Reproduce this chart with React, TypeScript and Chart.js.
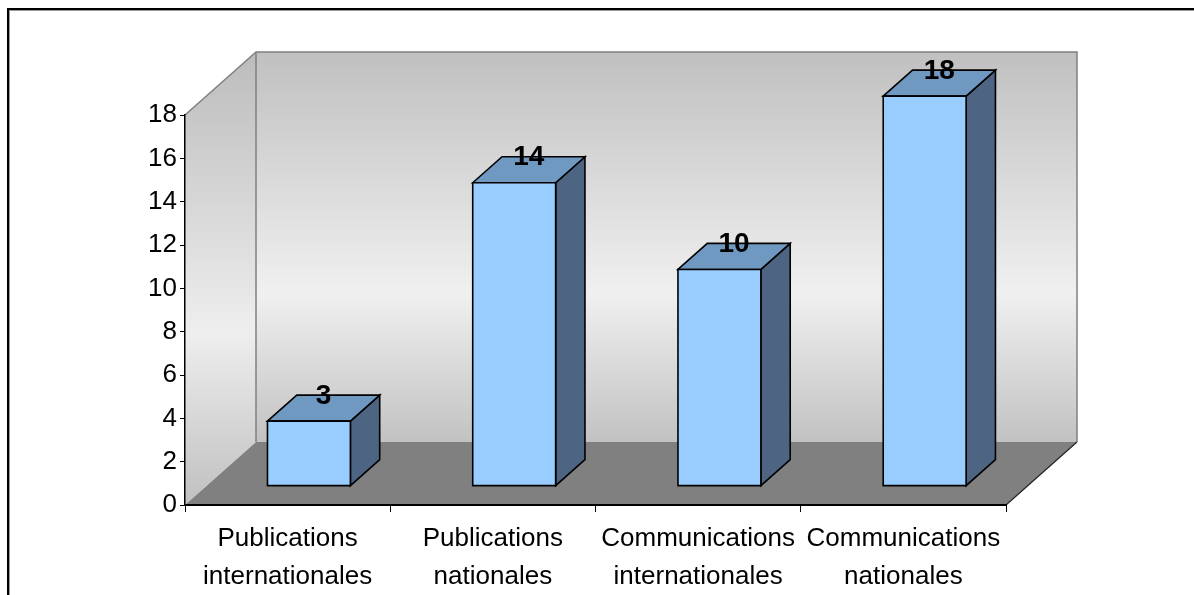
import React, { useEffect, useRef } from "react";
import { Chart, registerables } from "chart.js";

Chart.register(...registerables);

const categories: string[][] = [
  ["Publications", "internationales"],
  ["Publications", "nationales"],
  ["Communications", "internationales"],
  ["Communications", "nationales"],
];
const values: number[] = [3, 14, 10, 18];
const yMin = 0;
const yMax = 18;
const yStep = 2;

const FONT = "'Liberation Sans', Arial, sans-serif";
const DX = 71; // wall depth offset x
const DY = 63; // wall depth offset y
const BAR_FRONT = 0.3; // fraction of depth where bar front face sits
const BAR_DEPTH = 0.413; // fraction of depth occupied by bar

const threeD = {
  id: "threeD",
  beforeDraw(chart: any) {
    const { ctx, chartArea } = chart;
    const { left, right, top, bottom } = chartArea;
    ctx.save();
    // outer frame
    ctx.fillStyle = "#000";
    ctx.fillRect(7, 8, 2, 600);
    ctx.fillRect(7, 8, 1200, 2);
    ctx.fillStyle = "#9a9a9a";
    ctx.fillRect(9, 10, 1, 600);
    ctx.fillRect(9, 10, 1200, 1);

    const bx0 = left + DX, bx1 = right + DX, by0 = top - DY, by1 = bottom - DY;
    const g = ctx.createLinearGradient(0, by0, 0, by1);
    g.addColorStop(0, "#c0c0c0");
    g.addColorStop(0.62, "#f0f0f0");
    g.addColorStop(1, "#c2c2c2");
    ctx.fillStyle = g;
    ctx.fillRect(bx0, by0, bx1 - bx0, by1 - by0);

    // side wall
    const g2 = ctx.createLinearGradient(0, by0, 0, bottom);
    g2.addColorStop(0, "#bcbcbc");
    g2.addColorStop(0.62, "#eeeeee");
    g2.addColorStop(1, "#c0c0c0");
    ctx.fillStyle = g2;
    ctx.beginPath();
    ctx.moveTo(left, top);
    ctx.lineTo(bx0, by0);
    ctx.lineTo(bx0, by1);
    ctx.lineTo(left, bottom);
    ctx.closePath();
    ctx.fill();

    // floor
    ctx.fillStyle = "#808080";
    ctx.beginPath();
    ctx.moveTo(left, bottom);
    ctx.lineTo(right, bottom);
    ctx.lineTo(bx1, by1);
    ctx.lineTo(bx0, by1);
    ctx.closePath();
    ctx.fill();

    // wall edges
    ctx.strokeStyle = "#808080";
    ctx.lineWidth = 1.5;
    ctx.beginPath();
    ctx.moveTo(left, top);
    ctx.lineTo(bx0, by0);
    ctx.lineTo(bx1, by0);
    ctx.lineTo(bx1, by1);
    ctx.moveTo(bx0, by0);
    ctx.lineTo(bx0, by1);
    ctx.stroke();

    ctx.strokeStyle = "#222";
    ctx.lineWidth = 1.2;
    ctx.beginPath();
    ctx.moveTo(right, bottom);
    ctx.lineTo(bx1, by1);
    ctx.stroke();
    ctx.restore();
  },
  afterDatasetsDraw(chart: any) {
    const { ctx } = chart;
    const meta = chart.getDatasetMeta(0);
    const fx = DX * BAR_FRONT, fy = DY * BAR_FRONT;
    const ddx = DX * BAR_DEPTH, ddy = DY * BAR_DEPTH;
    ctx.save();
    ctx.lineJoin = "miter";
    meta.data.forEach((el: any, i: number) => {
      const w = el.width;
      const x0 = el.x - w / 2 + fx;
      const x1 = el.x + w / 2 + fx;
      const yt = el.y - fy;
      const yb = el.base - fy;
      ctx.lineWidth = 1.6;
      ctx.strokeStyle = "#000";
      // side
      ctx.fillStyle = "#4d6482";
      ctx.beginPath();
      ctx.moveTo(x1, yt);
      ctx.lineTo(x1 + ddx, yt - ddy);
      ctx.lineTo(x1 + ddx, yb - ddy);
      ctx.lineTo(x1, yb);
      ctx.closePath();
      ctx.fill();
      ctx.stroke();
      // top
      ctx.fillStyle = "#7099c2";
      ctx.beginPath();
      ctx.moveTo(x0, yt);
      ctx.lineTo(x0 + ddx, yt - ddy);
      ctx.lineTo(x1 + ddx, yt - ddy);
      ctx.lineTo(x1, yt);
      ctx.closePath();
      ctx.fill();
      ctx.stroke();
      // front
      ctx.fillStyle = "#99ccff";
      ctx.beginPath();
      ctx.rect(x0, yt, x1 - x0, yb - yt);
      ctx.fill();
      ctx.stroke();
      // label
      ctx.fillStyle = "#000";
      ctx.font = `bold 28px ${FONT}`;
      ctx.textAlign = "center";
      ctx.textBaseline = "middle";
      ctx.fillText(String(values[i]), (x0 + x1) / 2 + ddx / 2, yt - ddy + 1);
    });
    ctx.restore();
  },
};

export default function App() {
  const ref = useRef<HTMLCanvasElement | null>(null);
  useEffect(() => {
    if (!ref.current) return;
    const chart = new Chart(ref.current, {
      type: "bar",
      data: {
        labels: categories,
        datasets: [
          {
            data: values,
            backgroundColor: "rgba(0,0,0,0)",
            borderWidth: 0,
            barPercentage: 0.404,
            categoryPercentage: 1,
          },
        ],
      },
      options: {
        responsive: false,
        animation: false,
        devicePixelRatio: 1,
        layout: { padding: { left: 0, top: 115, right: 188, bottom: 0 } },
        plugins: { legend: { display: false }, tooltip: { enabled: false } },
        scales: {
          x: {
            grid: { drawOnChartArea: false, drawTicks: true, tickLength: 7, color: "#000", offset: true },
            border: { display: true, color: "#000", width: 2 },
            ticks: {
              color: "#000",
              font: { family: FONT, size: 26, lineHeight: 1.46 },
              padding: 8,
              maxRotation: 0,
              autoSkip: false,
            },
            afterFit(scale: any) {
              scale.height = 90;
            },
          },
          y: {
            min: yMin,
            max: yMax,
            grid: { drawOnChartArea: false, drawTicks: true, tickLength: 5, color: "#000" },
            border: { display: true, color: "#000", width: 1.5 },
            ticks: {
              stepSize: yStep,
              color: "#000",
              font: { family: FONT, size: 26 },
              padding: 3,
            },
            afterFit(scale: any) {
              scale.width = 185;
            },
          },
        },
      },
      plugins: [threeD],
    });
    return () => chart.destroy();
  }, []);
  return (
    <div style={{ position: "fixed", left: 0, top: 0, width: 1194, height: 595, background: "#fff" }}>
      <canvas ref={ref} width={1194} height={595} />
    </div>
  );
}
